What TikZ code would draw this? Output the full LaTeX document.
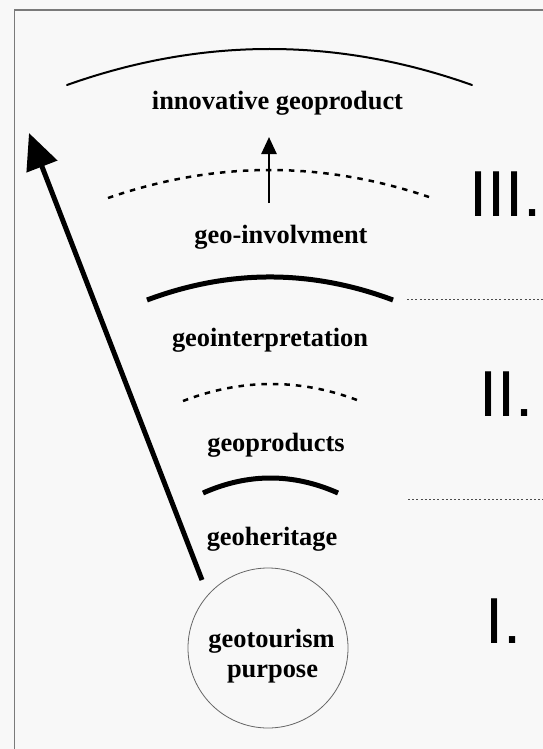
\documentclass[tikz,border=0pt]{standalone}
\usepackage{fontspec}
\setmainfont{Liberation Serif}
\newfontfamily\numfont{Liberation Sans}
\usetikzlibrary{arrows.meta}
\definecolor{bgc}{HTML}{F8F8F8}
\definecolor{framec}{HTML}{7A7A7A}
\tikzset{
  lbl/.style={anchor=base, inner sep=0pt, font=\fontsize{26.4}{30}\selectfont\bfseries},
  numlbl/.style={anchor=base west, inner sep=0pt, font=\fontsize{65}{70}\selectfont\numfont},
  solidarc/.style={line width=2pt, line cap=round},
  thickarc/.style={line width=5pt},
  dasharc/.style={line width=2.5pt, dash pattern=on 5.5pt off 6pt},
  sepline/.style={line width=1pt, draw=black!70, dash pattern=on 2pt off 2.2pt},
  bigarrow/.style={line width=5pt, -{Triangle[length=36pt,width=32pt]}},
  smallarrow/.style={line width=2.5pt, -{Triangle[length=17pt,width=15pt]}},
  goalcircle/.style={circle, draw=black!60, line width=0.8pt, minimum size=160pt, inner sep=0pt}
}
\begin{document}
\begin{tikzpicture}[x=1pt,y=-1pt]
\fill[bgc] (0,0) rectangle (543,749);
\useasboundingbox (0,0) rectangle (543,749);
% frame (left and top)
\draw[framec, line width=1.5pt] (14.3,749) -- (14.3,10) -- (543,10);

% arcs
\draw[solidarc] (67,85) .. controls (202,37) and (337,37) .. (472,85);
\draw[dasharc] (108,198) .. controls (215,161) and (322,160.7) .. (429,197);
\draw[thickarc] (147,300) .. controls (229,269.3) and (311,269.3) .. (393,300);
\draw[dasharc] (183,401) .. controls (241,378.7) and (299,378.3) .. (357,400);
\draw[thickarc] (203,493) .. controls (248,473) and (293,473) .. (338,493);

% separator lines
\coordinate (sepAl) at (407,299);
\coordinate (sepAr) at (543,299);
\coordinate (sepBl) at (408,499);
\coordinate (sepBr) at (543,499);
\draw[sepline] (sepAl) -- (sepAr);
\draw[sepline] (sepBl) -- (sepBr);

% labels
\node[lbl] (innov) at (277.5,110) {innovative geoproduct};
\node[lbl] (invol) at (281,243) {geo-involvment};
\node[lbl] (interp) at (270,346) {geointerpretation};
\node[lbl] (prods) at (276,451) {geoproducts};
\node[lbl] (herit) at (272,545) {geoheritage};

% goal circle
\node[goalcircle] (goal) at (268,648) {};
\node[lbl] (goalA) at (271.5,647) {geotourism};
\node[lbl] (goalB) at (272.5,677) {purpose};

% roman numerals
\node[numlbl] (nIII) at (469,216) {III.};
\node[numlbl] (nII) at (479,416) {II.};
\node[numlbl] (nI) at (485,643) {I.};

% arrows
\coordinate (btail) at (202,580);
\coordinate (btip) at (29,133);
\draw[bigarrow] (btail) -- (btip);
\coordinate (stail) at (269,203);
\coordinate (stip) at (269,137);
\draw[smallarrow] (stail) -- (stip);
\end{tikzpicture}
\end{document}
